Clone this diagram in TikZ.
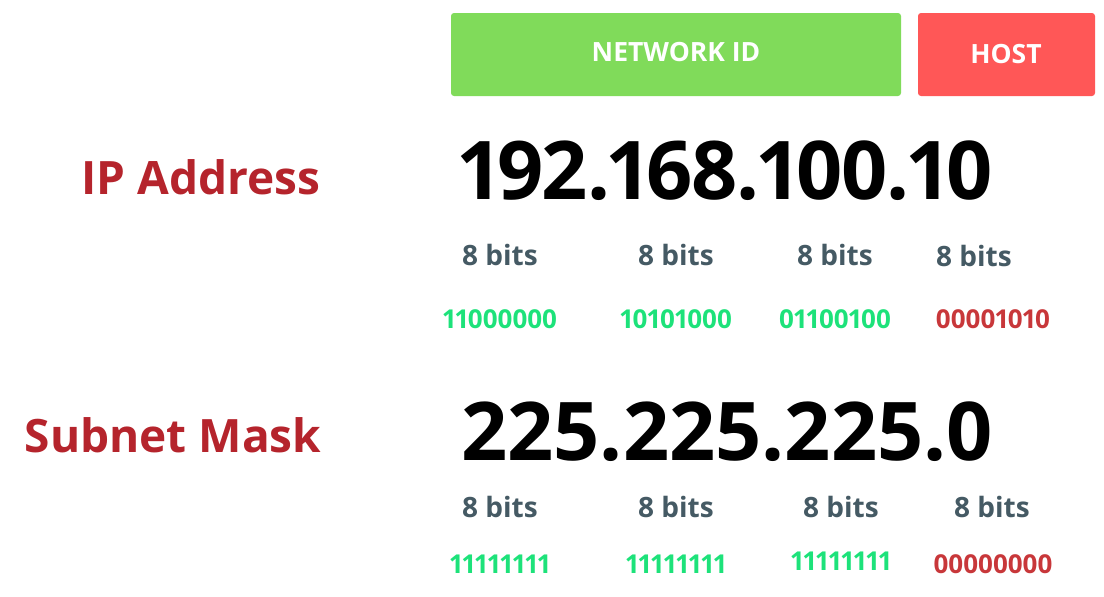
\documentclass[tikz,border=0pt]{standalone}
\usepackage{fontspec}
\setmainfont{Open Sans}[Numbers=Proportional]
\definecolor{netgreen}{HTML}{80DB5A}
\definecolor{hostred}{HTML}{FF5757}
\definecolor{labelred}{HTML}{B5242C}
\definecolor{bitgray}{HTML}{455A64}
\definecolor{bingreen}{HTML}{1DE27A}
\definecolor{binred}{HTML}{C8373A}
\tikzset{
  boxtext/.style={text=white, font=\fontsize{26.5}{32}\selectfont\bfseries},
  biglabel/.style={text=labelred, font=\fontsize{46}{52}\selectfont\bfseries},
  ipnum/.style={text=black, font=\fontsize{81}{90}\selectfont\bfseries},
  bits/.style={text=bitgray, font=\fontsize{28}{32}\selectfont\bfseries},
  bing/.style={text=bingreen, font=\fontsize{26}{30}\selectfont\bfseries},
  binr/.style={text=binred, font=\fontsize{26}{30}\selectfont\bfseries},
}
\begin{document}
\begin{tikzpicture}[x=1pt,y=-1pt]
\useasboundingbox (0,0) rectangle (1104,597);
\fill[netgreen, rounded corners=3pt] (451,13) rectangle (901,96);
\fill[hostred, rounded corners=3pt] (918,13) rectangle (1095,96);
\node[boxtext] (net) at (676,52) {NETWORK ID};
\node[boxtext] (host) at (1006,54) {HOST};

\node[biglabel] (ipl) at (201,177) {IP Address};
\node[ipnum, anchor=west, inner sep=0pt] (ip) at (459,171) {\addfontfeature{LetterSpace=-1.5}192.168.100.10};
\node[bits] (b1) at (500,255) {8 bits};
\node[bits] (b2) at (676,255) {8 bits};
\node[bits] (b3) at (835,255) {8 bits};
\node[bits] (b4) at (974,256) {8 bits};
\node[bing] (n1) at (500,319) {11000000};
\node[bing] (n2) at (676,319) {10101000};
\node[bing] (n3) at (835,319) {01100100};
\node[binr] (n4) at (993,319) {00001010};

\node[biglabel] (sml) at (173,435) {Subnet Mask};
\node[ipnum, anchor=west, inner sep=0pt] (sm) at (461,432) {225.225.225.0};
\node[bits] (c1) at (500,507) {8 bits};
\node[bits] (c2) at (676,507) {8 bits};
\node[bits] (c3) at (841,507) {8 bits};
\node[bits] (c4) at (992,507) {8 bits};
\node[bing] (m1) at (500,564) {11111111};
\node[bing] (m2) at (676,564) {11111111};
\node[bing] (m3) at (841,561) {11111111};
\node[binr] (m4) at (993,564) {00000000};
\end{tikzpicture}
\end{document}
